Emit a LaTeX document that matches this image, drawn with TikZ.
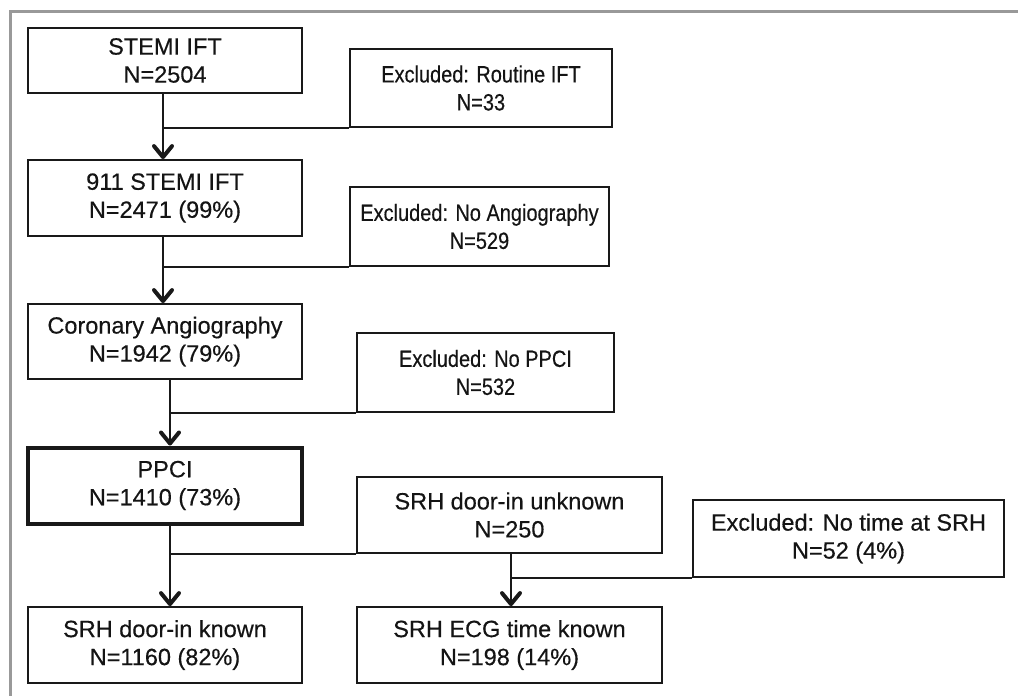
\documentclass[tikz,border=0pt]{standalone}
\usepackage{fontspec}
\setmainfont{Liberation Sans}[FakeBold=0.4]
\newfontfamily\condfont[FakeStretch=0.85,FakeBold=0.4]{Liberation Sans}
\usetikzlibrary{arrows.meta}
\begin{document}
\begin{tikzpicture}[x=1pt,y=-1pt,
  box/.style={draw=black!90,line width=1.8pt,inner sep=0pt,align=center,
    font=\fontsize{23.5}{28}\selectfont,text=black!92},
  thickbox/.style={box,line width=4pt},
  cbox/.style={box,font=\fontsize{23.5}{28}\selectfont\condfont},
  link/.style={draw=black!90,line width=1.5pt},
  arr/.style={link,-{Straight Barb[length=11pt,width=18pt,line width=4pt,round]}},
  frame/.style={draw=black!40,line width=3pt}]
\useasboundingbox (0,0) rectangle (1018,696);
\draw[frame] (10,697) -- (10,11) -- (1019,11);

\node[box,minimum width=274,minimum height=65] (b1) at (165,60.5) {STEMI IFT\\N=2504};
\node[cbox,minimum width=262,minimum height=78] (e1) at (481,88) {Excluded: Routine IFT\\N=33};
\node[box,minimum width=274,minimum height=76] (b2) at (165,198) {911 STEMI IFT\\N=2471 (99\%)};
\node[cbox,minimum width=259,minimum height=79] (e2) at (479.5,226.5) {Excluded: No Angiography\\N=529};
\node[box,minimum width=274,minimum height=75] (b3) at (165,341.5) {Coronary Angiography\\N=1942 (79\%)};
\node[cbox,minimum width=257,minimum height=79] (e3) at (485.5,372.5) {Excluded: No PPCI\\N=532};
\node[thickbox,minimum width=274,minimum height=76] (b4) at (165,485.5) {PPCI\\N=1410 (73\%)};
\node[box,minimum width=305,minimum height=76] (u) at (509.5,515) {SRH door-in unknown\\N=250};
\node[box,minimum width=311,minimum height=77] (e4) at (848.5,538.5) {Excluded: No time at SRH\\N=52 (4\%)};
\node[box,minimum width=274,minimum height=76] (k1) at (165,645) {SRH door-in known\\N=1160 (82\%)};
\node[box,minimum width=305,minimum height=76] (k2) at (509.5,645) {SRH ECG time known\\N=198 (14\%)};

\coordinate (c1) at ([xshift=-2pt]b1.south);
\coordinate (c2) at ([xshift=-2pt]b2.south);
\coordinate (c3) at ([xshift=5pt]b3.south);
\coordinate (c4) at ([xshift=5pt]b4.south);
\coordinate (c5) at ([xshift=1.5pt]u.south);

\draw[arr] (c1) -- (c1 |- b2.north);
\draw[link] (e1.south west) -- (e1.south west -| c1);
\draw[arr] (c2) -- (c2 |- b3.north);
\draw[link] (e2.south west) -- (e2.south west -| c2);
\draw[arr] (c3) -- (c3 |- b4.north);
\draw[link] (e3.south west) -- (e3.south west -| c3);
\draw[arr] (c4) -- (c4 |- k1.north);
\draw[link] (u.south west) -- (u.south west -| c4);
\draw[arr] (c5) -- (c5 |- k2.north);
\draw[link] (e4.south west) -- (e4.south west -| c5);
\end{tikzpicture}
\end{document}
